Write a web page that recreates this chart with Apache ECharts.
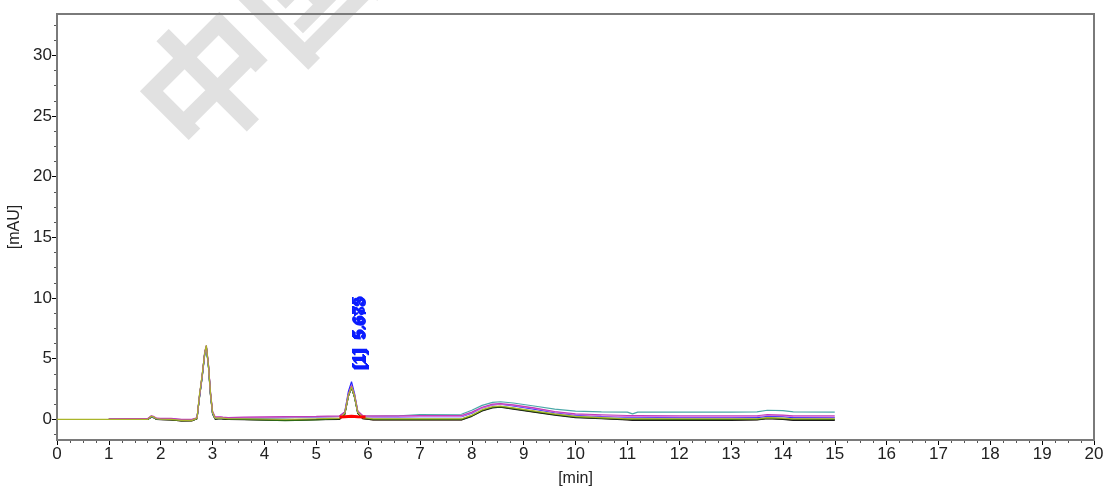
<!DOCTYPE html>
<html>
<head>
<meta charset="utf-8">
<script src="https://cdn.jsdelivr.net/npm/echarts@6/dist/echarts.min.js"></script>
<style>
  html, body { margin: 0; padding: 0; background: #fff; }
  #chart { width: 1107px; height: 486px; }
</style>
</head>
<body>
<div id="chart"></div>
<script>
// retention time [min], shared by all runs
var times = [0, 1.0, 1.75, 1.82, 1.86, 1.92, 2.0, 2.2, 2.4, 2.6,
    2.7, 2.75, 2.8, 2.85, 2.88, 2.92, 2.96, 3.0, 3.05, 3.15,
    3.2, 3.3, 3.6, 4.4, 5.0, 5.45, 5.55, 5.62, 5.68, 5.74,
    5.8, 5.9, 6.1, 6.6, 7.0, 7.8, 8.0, 8.2, 8.4, 8.55,
    8.8, 9.2, 9.6, 10.0, 10.5, 11.0, 11.1, 11.2, 12.0, 13.0,
    13.5, 13.7, 14.0, 14.2, 15.0];

// absorbance [mAU] of each injection
var olive = [0, 0, 0, 0.25, 0.2, 0.05, 0.02, 0.0, -0.08, -0.08,
    0.1, 2.1, 3.7, 5.5, 6.1, 4.5, 2.2, 0.6, 0.1, 0.12,
    0.1, 0.05, 0.05, 0.0, 0.05, 0.1, 0.5, 2.0, 2.7, 1.9,
    0.6, 0.15, 0.05, 0.05, 0.05, 0.05, 0.35, 0.8, 1.05, 1.1,
    0.95, 0.7, 0.45, 0.25, 0.15, 0.05, 0.05, 0.05, 0.05, 0.05,
    0.05, 0.15, 0.1, 0.05, 0.05];
var magenta = [null, 0.05, 0.08, 0.3, 0.25, 0.1, 0.08, 0.08, 0.0, 0.0,
    0.12, 2.0, 3.6, 5.6, 6.1, 4.6, 2.3, 0.7, 0.2, 0.2,
    0.18, 0.15, 0.18, 0.22, 0.25, 0.28, 0.6, 2.1, 2.8, 2.0,
    0.7, 0.3, 0.28, 0.3, 0.32, 0.32, 0.6, 1.0, 1.25, 1.3,
    1.2, 0.95, 0.65, 0.45, 0.38, 0.32, 0.32, 0.32, 0.3, 0.3,
    0.3, 0.4, 0.35, 0.3, 0.3];
var violet = [null, 0.03, 0.06, 0.28, 0.22, 0.08, 0.06, 0.06, -0.02, -0.02,
    0.1, 2.0, 3.6, 5.5, 6.0, 4.5, 2.2, 0.6, 0.15, 0.18,
    0.15, 0.12, 0.15, 0.18, 0.2, 0.22, 0.55, 2.0, 2.75, 1.95,
    0.65, 0.22, 0.2, 0.22, 0.25, 0.25, 0.55, 0.95, 1.2, 1.25,
    1.15, 0.9, 0.6, 0.38, 0.28, 0.22, 0.22, 0.22, 0.2, 0.2,
    0.22, 0.32, 0.28, 0.22, 0.2];
var teal = [null, 0.02, 0.05, 0.25, 0.2, 0.05, 0.05, 0.05, -0.05, -0.05,
    0.1, 1.9, 3.5, 5.4, 5.9, 4.4, 2.1, 0.5, 0.1, 0.15,
    0.12, 0.1, 0.12, 0.15, 0.2, 0.25, 0.55, 2.0, 2.7, 1.9,
    0.6, 0.25, 0.25, 0.3, 0.4, 0.42, 0.75, 1.15, 1.4, 1.45,
    1.35, 1.1, 0.85, 0.68, 0.62, 0.6, 0.45, 0.6, 0.6, 0.6,
    0.62, 0.75, 0.72, 0.62, 0.6];
var blue = [null, 0.02, 0.05, 0.22, 0.18, 0.05, 0.05, 0.05, -0.05, -0.05,
    0.1, 2.0, 3.6, 5.5, 6.0, 4.5, 2.2, 0.55, 0.1, 0.12,
    0.1, 0.08, 0.1, 0.15, 0.2, 0.25, 0.6, 2.3, 3.1, 2.1,
    0.65, 0.22, 0.2, 0.2, 0.22, 0.22, 0.5, 0.95, 1.2, 1.25,
    1.1, 0.85, 0.55, 0.35, 0.25, 0.18, 0.18, 0.18, 0.15, 0.15,
    0.15, 0.25, 0.22, 0.15, 0.15];
var darkGreen = [null, 0.0, 0.02, 0.2, 0.15, 0.02, 0.0, -0.02, -0.1, -0.1,
    0.05, 1.9, 3.5, 5.5, 6.0, 4.4, 2.1, 0.5, 0.05, 0.08,
    0.05, 0.02, 0.0, -0.1, -0.05, 0.05, 0.45, 1.9, 2.6, 1.8,
    0.55, 0.1, 0.0, 0.0, 0.0, 0.0, 0.3, 0.75, 1.0, 1.05,
    0.9, 0.65, 0.4, 0.2, 0.1, 0.02, 0.02, 0.02, 0.0, 0.0,
    0.0, 0.1, 0.05, 0.02, 0.0];
var black = [null, 0.0, 0.0, 0.18, 0.15, 0.0, -0.02, -0.05, -0.12, -0.1,
    0.05, 1.9, 3.5, 5.4, 5.9, 4.4, 2.0, 0.45, 0.0, 0.05,
    0.02, 0.0, -0.02, -0.08, -0.02, 0.0, 0.4, 1.9, 2.6, 1.8,
    0.5, 0.05, -0.05, -0.05, -0.05, -0.05, 0.25, 0.7, 0.95, 1.0,
    0.85, 0.6, 0.35, 0.15, 0.05, -0.05, -0.08, -0.08, -0.08, -0.08,
    -0.05, 0.05, 0.0, -0.08, -0.08];
var brown = [null, 0.0, 0.02, 0.2, 0.15, 0.02, 0.0, -0.05, -0.12, -0.12,
    0.05, 2.0, 3.6, 5.5, 6.0, 4.5, 2.1, 0.5, 0.05, 0.1,
    0.05, 0.0, 0.0, -0.05, 0.0, 0.02, 0.45, 2.0, 2.7, 1.85,
    0.55, 0.05, -0.05, -0.05, -0.05, -0.05, 0.28, 0.72, 0.98, 1.02,
    0.88, 0.62, 0.38, 0.18, 0.08, -0.02, -0.05, -0.05, -0.05, -0.05,
    -0.02, 0.08, 0.02, -0.05, -0.05];

// integration baseline of peak [1]
var baseTimes = [5.45, 5.55, 5.62, 5.68, 5.74, 5.8, 5.95];
var baseValues = [0.2, 0.22, 0.24, 0.25, 0.24, 0.22, 0.2];

// peak labels (one per injection, drawn on top of each other)
var peakTimes = [5.675, 5.683, 5.678];
var peakNames = ['[1]', '[1]', '[1]'];
var labelHeight = 7.1;

var xTicks = [0, 1, 2, 3, 4, 5, 6, 7, 8, 9, 10, 11, 12, 13, 14, 15, 16, 17, 18, 19, 20];
var yTicks = [0, 5, 10, 15, 20, 25, 30];
var yMinorTicks = [-1.25, 1.25, 2.5, 3.75, 6.25, 7.5, 8.75, 11.25, 12.5, 13.75,
    16.25, 17.5, 18.75, 21.25, 22.5, 23.75, 26.25, 27.5, 28.75, 31.25, 32.5];

var runs = [
    { name: 'run1', values: brown, color: '#8b5a2b' },
    { name: 'run2', values: black, color: '#1a1a1a' },
    { name: 'run3', values: darkGreen, color: '#2d6a12' },
    { name: 'run4', values: blue, color: '#2424ff' },
    { name: 'run5', values: teal, color: '#4aa8a8' },
    { name: 'run6', values: violet, color: '#d67ae0' },
    { name: 'run7', values: magenta, color: '#c03cb8' },
    { name: 'run8', values: olive, color: '#aab52a' }
];

function pairs(xs, ys) {
    var out = [];
    for (var i = 0; i < xs.length; i++) {
        out.push([xs[i], ys[i]]);
    }
    return out;
}

var font = '"Liberation Sans", Arial, sans-serif';
var series = [];
for (var i = 0; i < runs.length; i++) {
    series.push({
        name: runs[i].name,
        type: 'line',
        data: pairs(times, runs[i].values),
        symbol: 'none',
        lineStyle: { color: runs[i].color, width: 1.2 },
        z: 3 + i
    });
}
series.push({
    name: 'baseline',
    type: 'line',
    data: pairs(baseTimes, baseValues),
    symbol: 'none',
    lineStyle: { color: '#ff0000', width: 3 },
    z: 20
});

var watermark = {
    type: 'text',
    id: 'watermark',
    x: 256,
    y: 32,
    rotation: Math.PI / 4,
    z: 0,
    silent: true,
    style: {
        text: '中国',
        fill: '#e1e1e1',
        font: 'bold 136px "Noto Sans CJK SC"',
        textAlign: 'center',
        textVerticalAlign: 'middle'
    }
};

var chart = echarts.init(document.getElementById('chart'), null, { renderer: 'canvas' });
chart.setOption({
    animation: false,
    backgroundColor: '#ffffff',
    graphic: [watermark],
    grid: {
        left: 57,
        right: 13,
        top: 14,
        bottom: 46,
        outerBoundsMode: 'none',
        containLabel: false,
        show: true,
        borderColor: '#7a7a7a',
        borderWidth: 2,
        z: 5
    },
    xAxis: {
        type: 'value',
        min: 0,
        max: 20,
        interval: 1,
        name: '[min]',
        nameLocation: 'middle',
        nameGap: 31,
        nameTextStyle: { fontSize: 16, color: '#222', fontFamily: font },
        axisLine: { show: true, onZero: false, lineStyle: { color: '#000', width: 2 } },
        axisTick: { show: true, length: 5, lineStyle: { color: '#000' } },
        minorTick: { show: true, splitNumber: 4, length: 3, lineStyle: { color: '#555' } },
        axisLabel: {
            fontSize: 17, color: '#222', fontFamily: font, margin: 6,
            customValues: xTicks
        },
        splitLine: { show: false }
    },
    yAxis: [{
        type: 'value',
        min: -1.7,
        max: 33.4,
        name: '[mAU]',
        nameLocation: 'middle',
        nameGap: 27,
        nameTextStyle: { fontSize: 16, color: '#222', fontFamily: font },
        axisLine: { show: true, onZero: false, lineStyle: { color: '#000', width: 2 } },
        axisTick: { show: true, length: 5, customValues: yTicks, lineStyle: { color: '#000' } },
        axisLabel: {
            fontSize: 17, color: '#222', fontFamily: font, margin: 5,
            customValues: yTicks
        },
        splitLine: { show: false }
    }, {
        type: 'value',
        position: 'left',
        min: -1.7,
        max: 33.4,
        axisLine: { show: false, onZero: false },
        axisTick: { show: true, length: 3, customValues: yMinorTicks, lineStyle: { color: '#555' } },
        axisLabel: { show: false },
        splitLine: { show: false }
    }],
    series: series
});

// peak labels: placed through the axes, rotated to read bottom-up
var labels = [watermark];
for (var k = 0; k < peakTimes.length; k++) {
    var p = chart.convertToPixel({ gridIndex: 0 }, [peakTimes[k], labelHeight]);
    labels.push({
        type: 'text',
        x: p[0] + 9 + (k - 1) * 1.2,
        y: p[1] + (k - 1),
        rotation: Math.PI / 2,
        z: 50,
        silent: true,
        style: {
            text: peakNames[k] + '  ' + peakTimes[k].toFixed(3),
            fill: '#0a1cff',
            font: 'bold 17px ' + font,
            textAlign: 'center',
            textVerticalAlign: 'middle'
        }
    });
}
chart.setOption({ graphic: labels });
</script>
</body>
</html>
